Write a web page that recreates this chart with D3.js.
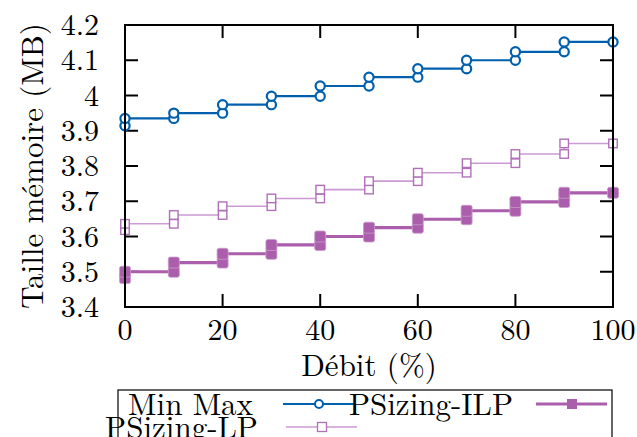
<!DOCTYPE html>
<html>
<head>
<meta charset="utf-8">
<script src="https://cdn.jsdelivr.net/npm/d3@7"></script>
<style>
  body { margin: 0; background: #fff; }
</style>
</head>
<body>
<div id="chart"></div>
<script>
const width = 637;
const height = 437;
const font = "'Latin Modern Roman', 'Liberation Serif', serif";

// débit (%) where each step happens
const debit = [0, 10, 20, 30, 40, 50, 60, 70, 80, 90, 100];
// level before the first step, then the level after each step
const minMax = [3.914, 3.935, 3.950, 3.974, 3.998, 4.027, 4.052, 4.076, 4.100, 4.124, 4.152];
const psizingLP = [3.618, 3.636, 3.661, 3.686, 3.708, 3.733, 3.757, 3.781, 3.808, 3.834, 3.864];
const psizingILP = [3.482, 3.500, 3.526, 3.551, 3.576, 3.600, 3.625, 3.649, 3.673, 3.698, 3.724];

const xTicks = [0, 20, 40, 60, 80, 100];
const yTicks = [3.4, 3.5, 3.6, 3.7, 3.8, 3.9, 4.0, 4.1, 4.2];

const margin = {top: 25, right: 24, bottom: 130, left: 125};

const x = d3.scaleLinear().domain([0, 100]).range([margin.left, width - margin.right]);
const y = d3.scaleLinear().domain([3.4, 4.2]).range([307, margin.top]);

// each x gets two points: the old level and the new one
function stepPoints(levels) {
  const pts = [];
  for (let i = 0; i < debit.length - 1; i++) {
    pts.push([debit[i], levels[i]]);
    pts.push([debit[i], levels[i + 1]]);
  }
  pts.push([debit[debit.length - 1], levels[levels.length - 1]]);
  return pts;
}

const svg = d3.select("#chart").append("svg")
  .attr("width", width)
  .attr("height", height);

const line = d3.line().x(d => x(d[0])).y(d => y(d[1]));

const x0 = x.range()[0], x1 = x.range()[1];
const y0 = y.range()[0], y1 = y.range()[1];

// ticks, mirrored on all sides, pointing in
const tickLen = 13;
const ticks = svg.append("g").attr("stroke", "#000").attr("stroke-width", 2);
yTicks.forEach(v => {
  ticks.append("line").attr("x1", x0).attr("x2", x0 + tickLen).attr("y1", y(v)).attr("y2", y(v));
  ticks.append("line").attr("x1", x1).attr("x2", x1 - tickLen).attr("y1", y(v)).attr("y2", y(v));
});
xTicks.forEach(v => {
  ticks.append("line").attr("x1", x(v)).attr("x2", x(v)).attr("y1", y0).attr("y2", y0 - tickLen);
  ticks.append("line").attr("x1", x(v)).attr("x2", x(v)).attr("y1", y1).attr("y2", y1 + tickLen);
});

svg.selectAll(".ylab")
  .data(yTicks)
  .join("text")
  .style("font-family", font)
  .attr("x", 99)
  .attr("y", d => y(d) + 10)
  .attr("text-anchor", "end")
  .attr("font-size", 30)
  .text(d => d === 4 ? "4" : d.toFixed(1));

svg.selectAll(".xlab")
  .data(xTicks)
  .join("text")
  .style("font-family", font)
  .attr("x", d => x(d))
  .attr("y", y0 + 33)
  .attr("text-anchor", "middle")
  .attr("font-size", 30)
  .text(d => d);

svg.append("text")
  .style("font-family", font)
  .attr("x", (x0 + x1) / 2)
  .attr("y", 376)
  .attr("text-anchor", "middle")
  .attr("font-size", 31)
  .text("Débit (%)");

svg.append("text")
  .style("font-family", font)
  .attr("transform", `translate(43, ${(y0 + y1) / 2}) rotate(-90)`)
  .attr("text-anchor", "middle")
  .attr("font-size", 31)
  .text("Taille mémoire (MB)");

// series
const blue = "#0060ad";
const lpLine = "#cc9ad2";
const lpMark = "#b070b8";
const ilp = "#ab5eab";

function drawCircles(g, pts, color) {
  g.selectAll("circle")
    .data(pts)
    .join("circle")
    .attr("cx", d => x(d[0]))
    .attr("cy", d => y(d[1]))
    .attr("r", 4.6)
    .attr("fill", "#fff")
    .attr("stroke", color)
    .attr("stroke-width", 2.2);
}

function drawSquares(g, pts, color, size, filled, sw) {
  g.selectAll("rect")
    .data(pts)
    .join("rect")
    .attr("x", d => x(d[0]) - size / 2)
    .attr("y", d => y(d[1]) - size / 2)
    .attr("width", size)
    .attr("height", size)
    .attr("rx", filled ? 2 : 0)
    .attr("fill", filled ? color : "#fff")
    .attr("stroke", filled ? "#c99ccb" : color)
    .attr("stroke-width", sw);
}

const ilpPts = stepPoints(psizingILP);
const gIlp = svg.append("g");
gIlp.append("path").datum(ilpPts).attr("d", line)
  .attr("fill", "none").attr("stroke", ilp).attr("stroke-width", 3.2);
drawSquares(gIlp, ilpPts, ilp, 11, true, 0.8);

const lpPts = stepPoints(psizingLP);
const gLp = svg.append("g");
gLp.append("path").datum(lpPts).attr("d", line)
  .attr("fill", "none").attr("stroke", lpLine).attr("stroke-width", 1.6);
drawSquares(gLp, lpPts, lpMark, 8.5, false, 1.4);

const mmPts = stepPoints(minMax);
const gMm = svg.append("g");
gMm.append("path").datum(mmPts).attr("d", line)
  .attr("fill", "none").attr("stroke", blue).attr("stroke-width", 2.2);
drawCircles(gMm, mmPts, blue);

// frame
svg.append("rect")
  .attr("x", x0).attr("y", y1)
  .attr("width", x1 - x0).attr("height", y0 - y1)
  .attr("fill", "none").attr("stroke", "#000").attr("stroke-width", 2);

// legend
const legend = svg.append("g");
legend.append("rect")
  .attr("x", 118).attr("y", 390)
  .attr("width", 494).attr("height", 60)
  .attr("fill", "none").attr("stroke", "#000").attr("stroke-width", 1.2);

const legendItems = [
  {name: "Min Max", tx: 253, ty: 415, lx: 283, kind: "circle", color: blue, sw: 2.2},
  {name: "PSizing-ILP", tx: 513, ty: 415, lx: 536, kind: "fill", color: ilp, sw: 3.2},
  {name: "PSizing-LP", tx: 258, ty: 438, lx: 286, kind: "open", color: lpLine, sw: 1.6}
];

legendItems.forEach(d => {
  const ly = d.ty - 11;
  legend.append("line")
    .attr("x1", d.lx).attr("x2", d.lx + 71)
    .attr("y1", ly).attr("y2", ly)
    .attr("stroke", d.color).attr("stroke-width", d.sw);
  const cx = d.lx + 36;
  if (d.kind === "circle") {
    legend.append("circle").attr("cx", cx).attr("cy", ly).attr("r", 4)
      .attr("fill", "#fff").attr("stroke", d.color).attr("stroke-width", 2);
  } else if (d.kind === "fill") {
    legend.append("rect").attr("x", cx - 5).attr("y", ly - 5).attr("width", 10).attr("height", 10)
      .attr("fill", d.color);
  } else {
    legend.append("rect").attr("x", cx - 4.5).attr("y", ly - 4.5).attr("width", 9).attr("height", 9)
      .attr("fill", "#fff").attr("stroke", lpMark).attr("stroke-width", 1.3);
  }
  legend.append("text")
    .style("font-family", font)
    .attr("x", d.tx).attr("y", d.ty)
    .attr("text-anchor", "end")
    .attr("font-size", 31)
    .text(d.name);
});
</script>
</body>
</html>
